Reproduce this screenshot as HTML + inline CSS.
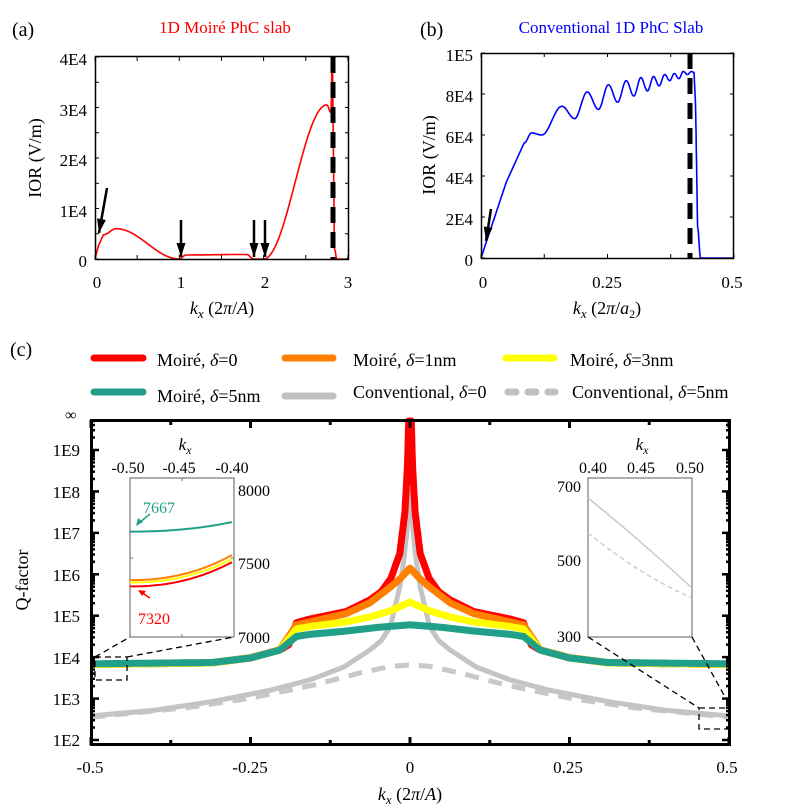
<!DOCTYPE html>
<html><head><meta charset="utf-8">
<style>
html,body{margin:0;padding:0;background:#fff;}
svg{display:block;font-family:"Liberation Serif",serif;}
</style></head>
<body>
<svg id="s" width="788" height="809" viewBox="0 0 788 809" xmlns="http://www.w3.org/2000/svg">
<rect width="788" height="809" fill="#fff"/>
<!-- Panel a -->
<text x="12" y="36" font-size="20">(a)</text>
<text x="225" y="33" font-size="17" fill="#f00" text-anchor="middle">1D Moiré PhC slab</text>
<g id="pa"></g>
<rect x="95.5" y="56.5" width="253" height="203" fill="none" stroke="#000" stroke-width="1.5"/>
<g font-size="17" text-anchor="end">
<text x="87" y="65">4E4</text><text x="87" y="116">3E4</text><text x="87" y="166">2E4</text><text x="87" y="217">1E4</text><text x="87" y="267">0</text>
</g>
<g font-size="17" text-anchor="middle">
<text x="97" y="288">0</text><text x="181" y="288">1</text><text x="265" y="288">2</text><text x="348" y="288">3</text>
</g>
<text transform="translate(41,158) rotate(-90)" font-size="18" text-anchor="middle">IOR (V/m)</text>
<text x="222" y="314" font-size="18" text-anchor="middle"><tspan font-style="italic">k</tspan><tspan font-style="italic" font-size="13" dy="4">x</tspan><tspan dy="-4"> (2</tspan><tspan font-style="italic">π</tspan><tspan>/</tspan><tspan font-style="italic">A</tspan><tspan>)</tspan></text>

<!-- Panel b -->
<text x="420" y="36" font-size="20">(b)</text>
<text x="611" y="33" font-size="17" fill="#00f" text-anchor="middle">Conventional  1D PhC Slab</text>
<g id="pb"></g>
<rect x="481.5" y="53.5" width="252" height="205" fill="none" stroke="#000" stroke-width="1.5"/>
<g font-size="17" text-anchor="end">
<text x="473" y="61">1E5</text><text x="473" y="102">8E4</text><text x="473" y="143">6E4</text><text x="473" y="184">4E4</text><text x="473" y="225">2E4</text><text x="473" y="266">0</text>
</g>
<g font-size="17" text-anchor="middle">
<text x="483" y="288">0</text><text x="607" y="288">0.25</text><text x="732" y="288">0.5</text>
</g>
<text transform="translate(435,155) rotate(-90)" font-size="18" text-anchor="middle">IOR (V/m)</text>
<text x="607" y="314" font-size="18" text-anchor="middle"><tspan font-style="italic">k</tspan><tspan font-style="italic" font-size="13" dy="4">x</tspan><tspan dy="-4"> (2</tspan><tspan font-style="italic">π</tspan><tspan>/</tspan><tspan font-style="italic">a</tspan><tspan font-size="12" dy="4">2</tspan><tspan dy="-4">)</tspan></text>

<!-- Panel c legend -->
<text x="10" y="356" font-size="20">(c)</text>
<g stroke-linecap="round" stroke-width="7">
<line x1="94" y1="358" x2="143" y2="358" stroke="#f00"/>
<line x1="285" y1="358" x2="333" y2="358" stroke="#ff7f00"/>
<line x1="506" y1="358" x2="554" y2="358" stroke="#ffff00"/>
<line x1="94" y1="392" x2="143" y2="392" stroke="#20a088"/>
<line x1="285" y1="396" x2="333" y2="396" stroke="#c0c0c0"/>
<line x1="508" y1="392" x2="555" y2="392" stroke="#c0c0c0" stroke-dasharray="8 12"/>
</g>
<g font-size="18">
<text x="157" y="366">Moiré, <tspan font-style="italic">δ</tspan>=0</text>
<text x="353" y="366">Moiré, <tspan font-style="italic">δ</tspan>=1nm</text>
<text x="570" y="366">Moiré, <tspan font-style="italic">δ</tspan>=3nm</text>
<text x="157" y="402">Moiré, <tspan font-style="italic">δ</tspan>=5nm</text>
<text x="353" y="398">Conventional, <tspan font-style="italic">δ</tspan>=0</text>
<text x="572" y="398">Conventional, <tspan font-style="italic">δ</tspan>=5nm</text>
</g>
<text x="65" y="420" font-size="16">∞</text>

<g id="pc"></g>
<rect x="91.5" y="420.5" width="638" height="324" fill="none" stroke="#000" stroke-width="3"/>
<g id="ticks"></g>
<g font-size="17" text-anchor="end">
<text x="80" y="456">1E9</text><text x="80" y="498">1E8</text><text x="80" y="539">1E7</text><text x="80" y="581">1E6</text><text x="80" y="622">1E5</text><text x="80" y="664">1E4</text><text x="80" y="705">1E3</text><text x="80" y="746">1E2</text>
</g>
<g font-size="17" text-anchor="middle">
<text x="90" y="773">-0.5</text><text x="250" y="773">-0.25</text><text x="410" y="773">0</text><text x="568" y="773">0.25</text><text x="727" y="773">0.5</text>
</g>
<text transform="translate(28,580) rotate(-90)" font-size="18" text-anchor="middle">Q-factor</text>
<text x="410" y="800" font-size="18" text-anchor="middle"><tspan font-style="italic">k</tspan><tspan font-style="italic" font-size="13" dy="4">x</tspan><tspan dy="-4"> (2</tspan><tspan font-style="italic">π</tspan><tspan>/</tspan><tspan font-style="italic">A</tspan><tspan>)</tspan></text>

<!-- left inset -->
<rect x="130" y="478" width="104" height="159" fill="#fff" stroke="#777" stroke-width="1.2"/>
<g id="insL"></g>
<g stroke="#000" stroke-width="1.3" stroke-dasharray="6 4" fill="none">
<rect x="95" y="657" width="32" height="23"/>
<line x1="95" y1="657" x2="130" y2="637"/>
<line x1="127" y1="657" x2="234" y2="637"/>
</g>
<g font-size="16" text-anchor="middle">
<text x="128" y="473">-0.50</text><text x="179" y="473">-0.45</text><text x="232" y="473">-0.40</text>
</g>
<text x="185" y="450" font-size="17" font-style="italic" text-anchor="middle">k<tspan font-size="12" dy="4">x</tspan></text>
<g font-size="16"><text x="238" y="496">8000</text><text x="238" y="569">7500</text><text x="238" y="643">7000</text></g>
<text x="143" y="513" font-size="16" fill="#20a088">7667</text>
<text x="138" y="624" font-size="16" fill="#f00">7320</text>
<line x1="150" y1="514" x2="139" y2="523" stroke="#20a088" stroke-width="1.5"/>
<polygon points="136,526 138,518 143,522" fill="#20a088"/>
<line x1="150" y1="598" x2="141" y2="592" stroke="#f00" stroke-width="1.5"/>
<polygon points="138,590 146,591 142,596" fill="#f00"/>

<!-- right inset -->
<rect x="588" y="478" width="104" height="159" fill="#fff" stroke="#777" stroke-width="1.2"/>
<path d="M588,498 Q640,540 692,588" fill="none" stroke="#c8c8c8" stroke-width="1.5"/>
<path d="M588,533 Q640,575 692,598" fill="none" stroke="#d0d0d0" stroke-width="1.5" stroke-dasharray="5 3"/>
<g stroke="#000" stroke-width="1.3" stroke-dasharray="6 4" fill="none">
<rect x="699" y="708" width="30" height="21"/>
<line x1="588" y1="637" x2="699" y2="708"/>
<line x1="692" y1="637" x2="725" y2="697"/>
</g>
<g font-size="16" text-anchor="middle">
<text x="593" y="473">0.40</text><text x="641" y="473">0.45</text><text x="690" y="473">0.50</text>
</g>
<text x="642" y="450" font-size="17" font-style="italic" text-anchor="middle">k<tspan font-size="12" dy="4">x</tspan></text>
<g font-size="16" text-anchor="end"><text x="581" y="492">700</text><text x="581" y="566">500</text><text x="581" y="642">300</text></g>
</svg>
<script>
var NS="http://www.w3.org/2000/svg";
function el(p,t,a){var e=document.createElementNS(NS,t);for(var k in a)e.setAttribute(k,a[k]);p.appendChild(e);return e;}
function interp(pts,x,cos){for(var i=0;i<pts.length-1;i++){var a=pts[i],b=pts[i+1];if(x>=a[0]&&x<=b[0]){var t=(x-a[0])/(b[0]-a[0]);if(cos&&!b[2])t=(1-Math.cos(Math.PI*t))/2;return a[1]+(b[1]-a[1])*t;}}return pts[pts.length-1][1];}
// panel a
var pa=document.getElementById('pa');
var A=[[0,0],[0.04,2600,1],[0.1,4800,1],[0.25,6000],[1,0],[1.08,800],[1.8,900],[1.88,0],[2.0,0],[2.75,30500],[2.8,29000],[2.815,42000],[2.84,2000,1],[2.87,0],[3,0]];
var d="";for(var x=0;x<=3;x+=0.003){var v=interp(A,x,true);var px=95+x*84.3,py=259-v/10000*50.5;if(py<57)py=57;d+=(d?"L":"M")+px.toFixed(1)+","+py.toFixed(1);}
el(pa,'path',{d:d,fill:'none',stroke:'#f00','stroke-width':1.6});
el(pa,'line',{x1:333,y1:57,x2:333,y2:259,stroke:'#000','stroke-width':5,'stroke-dasharray':'16 9'});
function arrow(g,x1,y1,x2,y2){el(g,'line',{x1:x1,y1:y1,x2:x2,y2:y2,stroke:'#000','stroke-width':2.5});var ang=Math.atan2(y2-y1,x2-x1),L=14,w=4.5;var bx=x2-L*Math.cos(ang),by=y2-L*Math.sin(ang);el(g,'polygon',{points:x2+","+y2+" "+(bx+w*Math.sin(ang))+","+(by-w*Math.cos(ang))+" "+(bx-w*Math.sin(ang))+","+(by+w*Math.cos(ang)),fill:'#000'});}
arrow(pa,107,188,99,233);arrow(pa,181,220,181,257);arrow(pa,254,220,254,257);arrow(pa,265,220,265,257);
// panel b
var pb=document.getElementById('pb');
var B=[[0,0],[0.05,37000,1],[0.085,56000,1],[0.1,61000],[0.12,60000],[0.16,74000],[0.185,68000],[0.21,81000],[0.232,72500],[0.252,84500],[0.27,76000],[0.287,86500],[0.302,79000],[0.316,88000],[0.329,81500],[0.341,88500],[0.352,84000],[0.363,89500],[0.373,86500],[0.382,90000],[0.391,87500],[0.4,91000],[0.408,89500],[0.416,91000],[0.421,90500],[0.424,75000,1],[0.428,15000,1],[0.434,0],[0.5,0]];
d="";for(var x=0;x<=0.5;x+=0.0005){var v=interp(B,x,true);d+=(d?"L":"M")+(481+x*506).toFixed(1)+","+(258-v/10000*20.5).toFixed(1);}
el(pb,'path',{d:d,fill:'none',stroke:'#00f','stroke-width':1.6});
el(pb,'line',{x1:690,y1:53,x2:690,y2:258,stroke:'#000','stroke-width':5,'stroke-dasharray':'16 9'});
arrow(pb,491,209,486,241);
for(var i=0;i<=6;i++){var x=95+i*0.5*84.3;el(pa,'line',{x1:x,y1:259,x2:x,y2:255,stroke:'#000'});el(pa,'line',{x1:x,y1:57,x2:x,y2:61,stroke:'#000'});}
for(var i=0;i<=8;i++){var y=259-i*25.25;el(pa,'line',{x1:95,y1:y,x2:99,y2:y,stroke:'#000'});el(pa,'line',{x1:349,y1:y,x2:345,y2:y,stroke:'#000'});}
for(var i=0;i<=4;i++){var x=481+i*63.25;el(pb,'line',{x1:x,y1:258,x2:x,y2:254,stroke:'#000'});el(pb,'line',{x1:x,y1:53,x2:x,y2:57,stroke:'#000'});}
for(var i=0;i<=5;i++){var y=258-i*41;el(pb,'line',{x1:481,y1:y,x2:485,y2:y,stroke:'#000'});el(pb,'line',{x1:734,y1:y,x2:730,y2:y,stroke:'#000'});}
// panel c
var pc=document.getElementById('pc');
function X(k){return 410+k*638;}function Y(l){return 740-(l-2)*41.43;}
function curve(f,col,w,dash){var d="";for(var k=-0.5;k<=0.50001;k+=0.0005){var l=f(Math.abs(k));var y=Y(l);if(y<421)y=421;d+=(d?"L":"M")+X(k).toFixed(1)+","+y.toFixed(1);}var a={d:d,fill:'none',stroke:col,'stroke-width':w,'stroke-linejoin':'round'};if(dash)a['stroke-dasharray']=dash;el(pc,'path',a);}
var G=[[0,8.0],[0.005,7.0],[0.01,6.3],[0.016,5.69],[0.031,4.73],[0.045,4.4],[0.063,4.17],[0.104,3.76],[0.157,3.45],[0.219,3.2],[0.313,2.92],[0.4,2.72],[0.5,2.58]];
var GD=[[0,3.81],[0.03,3.78],[0.078,3.62],[0.15,3.33],[0.25,3.01],[0.35,2.78],[0.5,2.55]];
var Rp=[[0,12],[0.0015,10],[0.004,8.6],[0.008,7.5],[0.016,6.5],[0.03,5.9],[0.045,5.58],[0.063,5.38],[0.1,5.1],[0.157,4.92],[0.178,4.83],[0.19,4.3],[0.204,4.17],[0.25,3.98],[0.31,3.86],[0.5,3.82]];
var O=[[0,6.15],[0.015,5.9],[0.03,5.7],[0.063,5.31],[0.1,5.05],[0.157,4.85],[0.178,4.78],[0.204,4.18],[0.25,3.99],[0.31,3.87],[0.5,3.83]];
var Yl=[[0,5.33],[0.03,5.12],[0.063,4.97],[0.1,4.85],[0.157,4.74],[0.178,4.68],[0.204,4.17],[0.25,3.98],[0.31,3.86],[0.5,3.82]];
var T=[[0,4.78],[0.05,4.72],[0.1,4.63],[0.157,4.55],[0.178,4.5],[0.204,4.17],[0.25,3.98],[0.31,3.87],[0.5,3.84]];
curve(function(k){return interp(GD,k,false)},'#c8c8c8',5,'14 10');
curve(function(k){return interp(G,k,false)},'#c4c4c4',5);
curve(function(k){return interp(Rp,k,false)},'#ff0000',7);
curve(function(k){return interp(O,k,false)},'#ff7f00',7);
curve(function(k){return interp(Yl,k,false)},'#ffff00',7);
curve(function(k){return interp(T,k,false)},'#20a088',7);
var tk=document.getElementById('ticks');
for(var i=0;i<=8;i++){var x=X(-0.5+i*0.125);var L=(i%2==0)?8:5;el(tk,'line',{x1:x,y1:745,x2:x,y2:745-L,stroke:'#000','stroke-width':3});el(tk,'line',{x1:x,y1:420,x2:x,y2:420+L,stroke:'#000','stroke-width':3});}
for(var dec=2;dec<=9;dec++){for(var m=1;m<=9;m++){var l=dec+Math.log10(m);if(l>9.7)break;var y=Y(l);var L=(m==1)?8:4;el(tk,'line',{x1:91,y1:y,x2:91+L,y2:y,stroke:'#000','stroke-width':2.5});el(tk,'line',{x1:730,y1:y,x2:730-L,y2:y,stroke:'#000','stroke-width':2.5});}}
var il=document.getElementById('insL');
function iy(v){return 637-(v-7000)/1000*158;}
function ix(k){return 130+(k+0.5)/0.1*104;}
function icurve(v0,v1,col){var d="";for(var k=-0.5;k<=-0.4;k+=0.002){var t=(k+0.5)/0.1;var v=v0+(v1-v0)*Math.pow(t,2.2);d+=(d?"L":"M")+ix(k).toFixed(1)+","+iy(v).toFixed(1);}el(il,'path',{d:d,fill:'none',stroke:col,'stroke-width':2});}
icurve(7667,7730,'#20a088');icurve(7345,7500,'#ffff00');icurve(7360,7525,'#ff7f00');icurve(7320,7480,'#f00');
[[130,558],[234,558]].forEach(function(p,i){el(il,'line',{x1:p[0],y1:p[1],x2:p[0]+(i?-3:3),y2:p[1],stroke:'#777'});});
el(il,'line',{x1:182,y1:478,x2:182,y2:481,stroke:'#777'});el(il,'line',{x1:182,y1:637,x2:182,y2:634,stroke:'#777'});
</script>
</body></html>
